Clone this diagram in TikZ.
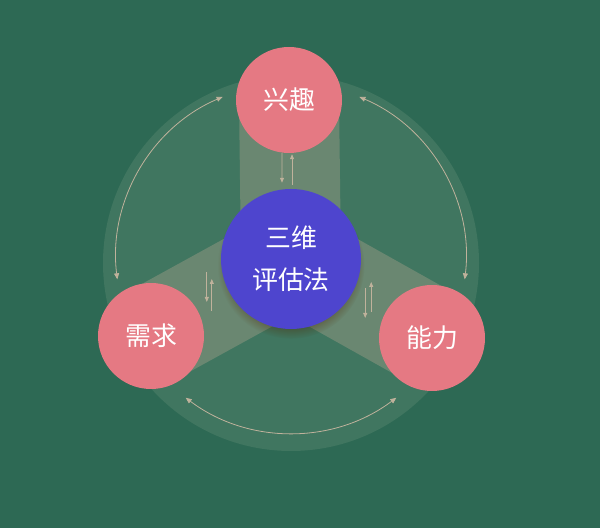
\documentclass[tikz,border=0pt]{standalone}
\usepackage{fontspec}
\newfontfamily\cjkfont{Noto Sans CJK SC}
\usetikzlibrary{arrows.meta,backgrounds,shadows}
\definecolor{bgGreen}{RGB}{45,105,84}
\definecolor{ringGreen}{RGB}{64,118,96}
\definecolor{bandGreen}{RGB}{106,135,113}
\definecolor{petalPink}{RGB}{229,121,131}
\definecolor{coreBlue}{RGB}{78,69,206}
\definecolor{tipTan}{RGB}{192,178,156}

\begin{document}
\begin{tikzpicture}[
		x=1bp, y=1bp,
		every node/.style={circle, inner sep=0pt, align=center, text=white, font=\cjkfont\fontsize{26}{42}\selectfont},
		petal/.style={fill=petalPink, minimum size=106bp},
		core/.style={fill=coreBlue, minimum size=140bp, circular drop shadow={shadow xshift=0bp, shadow yshift=-6bp, shadow scale=1.05, fill=black!70!orange, opacity=.35}},
		band/.style={draw=bandGreen, line width=100bp},
		twoway/.style={draw=tipTan, line width=0.8bp, {Triangle[length=6bp,width=5bp]}-{Triangle[length=6bp,width=5bp]}},
		oneway/.style={draw=tipTan, line width=0.8bp, -{Triangle[length=5bp,width=4bp]}}
	]
	\useasboundingbox (0,0) rectangle (600,528);
	\coordinate (hub) at (291,270);

	% circles
	\node[core] (core) at (291,269) {三维\\评估法};
	\node[petal] (interest) at (289,428) {兴趣};
	\node[petal] (need) at (151,192) {需求};
	\node[petal] (ability) at (432,190) {能力};

	% ring and bands
	\begin{scope}[on background layer]
		\fill[bgGreen] (0,0) rectangle (600,528);
		\fill[ringGreen] (291,265) circle[radius=188];
		\draw[band] (core.center) -- (interest.center);
		\draw[band] (core.center) -- (need.center);
		\draw[band] (core.center) -- (ability.center);
	\end{scope}

	% arcs between the outer circles
	\draw[twoway] ([shift={(113:175)}]hub) arc[start angle=113, end angle=187, radius=175];
	\draw[twoway] ([shift={(67:175)}]hub) arc[start angle=67, end angle=-7, radius=175];
	\draw[twoway] ([shift={(233:175)}]hub) arc[start angle=233, end angle=307, radius=175];

	% small arrows to and from the core
	\draw[oneway] ([xshift=-7bp]interest.south) -- ([shift={(-9,6)}]core.north);
	\draw[oneway] ([shift={(1,4)}]core.north) -- ([shift={(3,-1)}]interest.south);
	\draw[oneway] ([shift={(-14,-13)}]core.west) -- ++(0,-30);
	\draw[oneway] ([shift={(-9,-52)}]core.west) -- ++(0,32);
	\draw[oneway] ([shift={(4,-29)}]core.east) -- ++(0,-30);
	\draw[oneway] ([shift={(10,-53)}]core.east) -- ++(0,30);
\end{tikzpicture}
\end{document}
